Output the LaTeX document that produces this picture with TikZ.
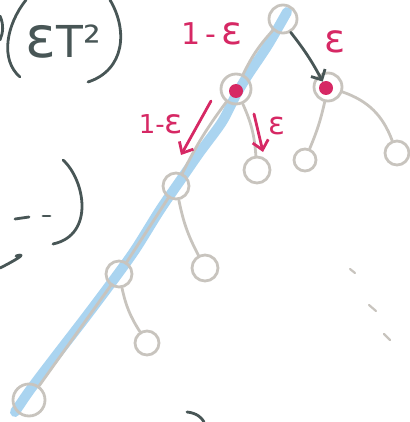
\documentclass[tikz,border=0pt]{standalone}
\usepackage{fontspec}
\setmainfont{DejaVu Sans}
\usepackage{graphicx}
\usetikzlibrary{arrows.meta}
\definecolor{inkred}{RGB}{214,40,100}
\definecolor{inkgray}{RGB}{200,196,190}
\definecolor{inkblue}{RGB}{170,212,240}
\definecolor{inkdark}{RGB}{72,86,86}
\newcommand{\heps}{\scalebox{1.3}{ε}}
\begin{document}
\begin{tikzpicture}[x=1pt, y=-1pt, line cap=round, line join=round,
  tnode/.style={circle, draw=inkgray, line width=2.8pt, minimum size=#1, inner sep=0pt},
  tnode/.default=26pt,
  rdot/.style={circle, fill=inkred, minimum size=14pt, inner sep=0pt},
  edge/.style={draw=inkgray, line width=2.8pt},
  ink/.style={draw=inkdark, line width=2.8pt},
  redlab/.style={text=inkred, inner sep=0pt, font=\fontsize{#1}{#1}\selectfont},
  redarrow/.style={draw=inkred, line width=2.8pt, -{Straight Barb[length=9pt,width=16pt]}}]
  \useasboundingbox (0,0) rectangle (409,422);
  \draw[inkblue, line width=10pt] plot[smooth] coordinates {(287,12) (268,45) (248,75) (236,95) (222,122) (200,152) (182,178) (160,210) (135,250) (112,282) (85,318) (55,357) (30,390) (15,412)};
  \node[tnode=28pt] (root) at (283,19) {};
  \node[tnode=30pt] (a) at (236,89) {};
  \node[tnode=28pt] (b) at (328,87) {};
  \node[tnode=26pt] (a2) at (176,186) {};
  \node[tnode=26pt] (ar) at (257,170) {};
  \node[tnode=22pt] (bl) at (305,160) {};
  \node[tnode=24pt] (br) at (397,153) {};
  \node[tnode=26pt] (a3) at (119,274) {};
  \node[tnode=26pt] (a2r) at (205,268) {};
  \node[tnode=24pt] (a3r) at (147,343) {};
  \node[tnode=32pt] (a4) at (29,400) {};
  \node[rdot] (da) at (236,91) {};
  \node[rdot] (db) at (326,88) {};
  \draw[edge] (root) to[bend right=8] (a);
  \draw[edge] (a) to[bend right=5] (a2);
  \draw[edge] (a) to[bend left=10] (ar);
  \draw[edge] (b) to[bend left=5] (bl);
  \draw[edge] (b) to[bend left=25] (br);
  \draw[edge] (a2) to[bend right=8] (a2r);
  \draw[edge] (a2) to (a3);
  \draw[edge] (a3) to[bend right=10] (a3r);
  \draw[edge] (a3) to (a4);
  \draw[ink, -{Straight Barb[length=8pt,width=16pt]}] (root.-60) to[bend left=5] (db);
  \coordinate (p1) at (211,101);
  \coordinate (p2) at (181,155);
  \coordinate (q1) at (254,114);
  \coordinate (q2) at (263,152);
  \draw[redarrow] (p1) -- (p2);
  \draw[redarrow] (q1) -- (q2);
  \node[redlab=30] (l1) at (212,34) {1\,-\,\heps};
  \node[redlab=30] (l2) at (335,42) {\heps};
  \node[redlab=26] (l3) at (161,124) {1-\heps};
  \node[redlab=24] (l4) at (277,126) {\heps};
  \node[text=inkdark, inner sep=0pt, font=\fontsize{44}{44}\selectfont] (et) at (63,42) {\heps T²};
  \draw[ink] (0,16) .. controls (4,25) and (3,33) .. (0,40);
  \draw[ink] (26,0) .. controls (6,25) and (0,60) .. (20,77);
  \draw[ink] (110,0) .. controls (128,30) and (125,70) .. (88,82);
  \draw[ink] (63,160) .. controls (85,180) and (95,235) .. (53,244);
  \draw[ink] (15,219) -- (29,217);
  \draw[ink] (43,216) -- (50,216);
  \draw[ink] (0,268) .. controls (12,262) and (30,252) .. (16,256);
  \draw[ink] (187,412) .. controls (197,413) and (202,418) .. (204,422);
  \draw[edge, line width=2.2pt] (350,269) -- (355,273);
  \draw[edge, line width=2.2pt] (369,305) -- (376,311);
  \draw[edge, line width=2.2pt] (384,334) -- (390,340);
\end{tikzpicture}
\end{document}
